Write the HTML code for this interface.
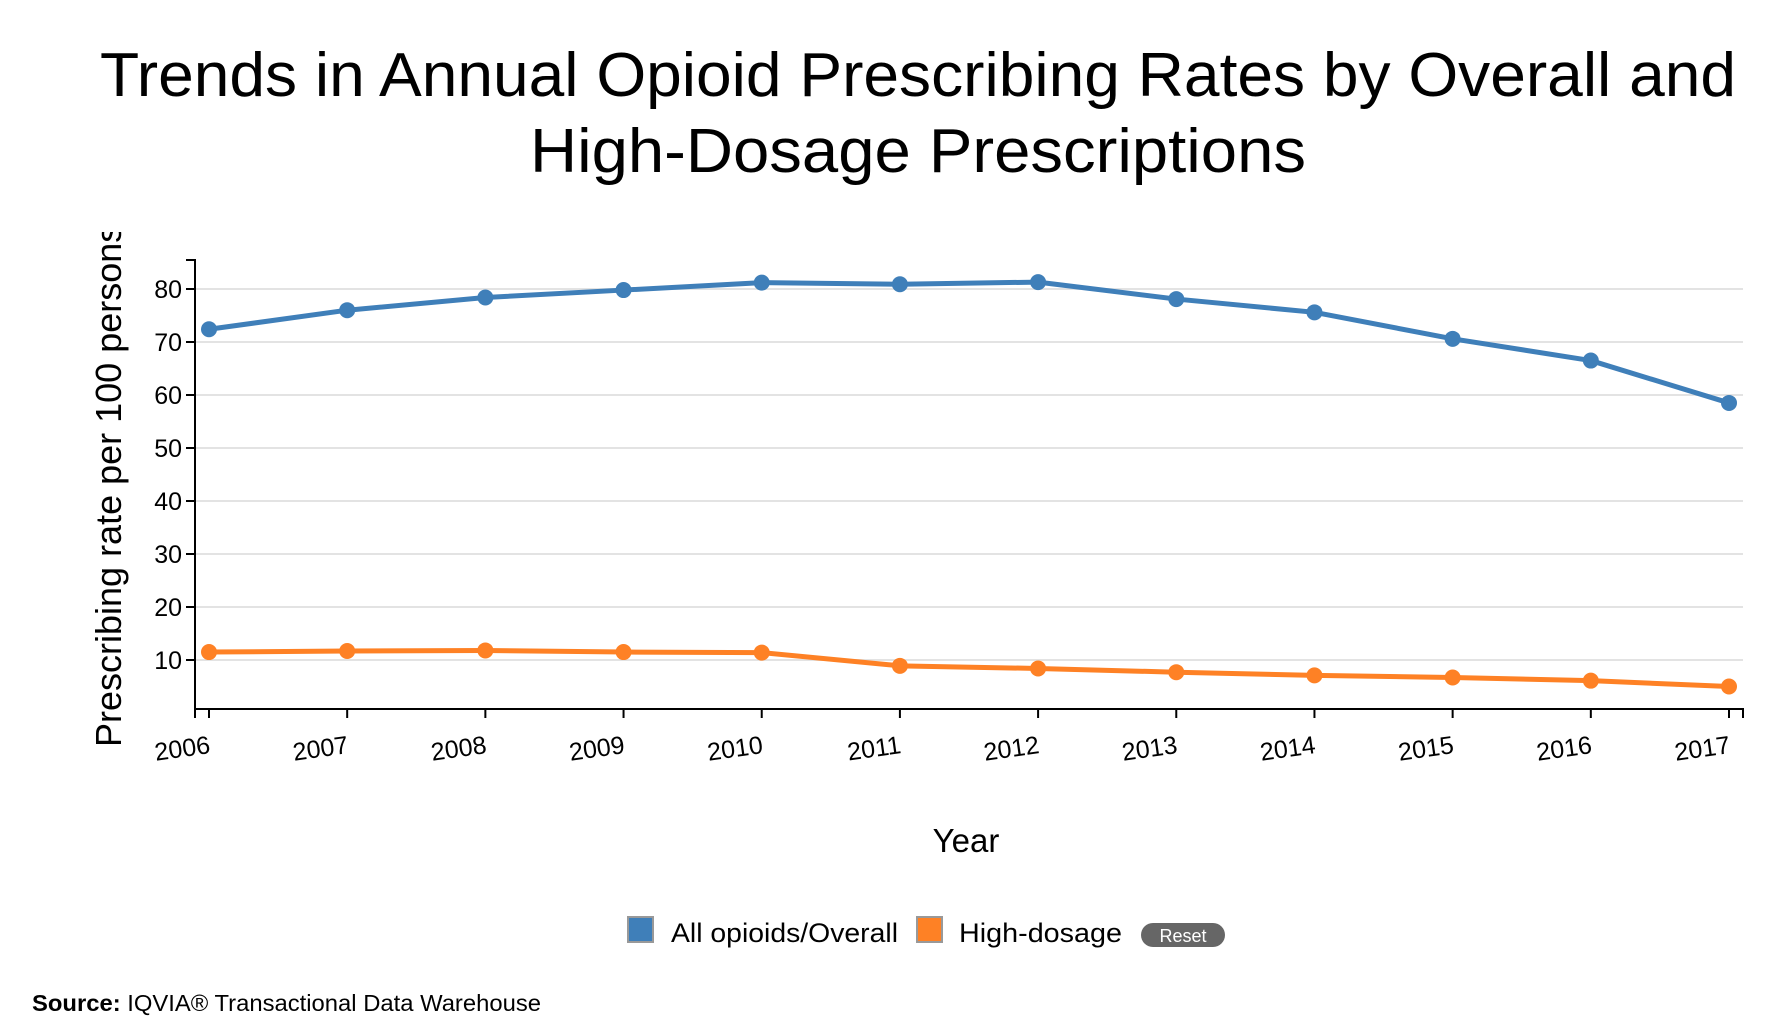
<!DOCTYPE html>
<html><head><meta charset="utf-8">
<style>
html,body{margin:0;padding:0;background:#fff;}
svg{display:block;font-family:"Liberation Sans",Arial,sans-serif;}
</style></head>
<body>
<svg id="chart" width="1766" height="1024" viewBox="0 0 1766 1024">
  <text x="918" y="96" text-anchor="middle" font-size="62" textLength="1636" lengthAdjust="spacingAndGlyphs" fill="#000">Trends in Annual Opioid Prescribing Rates by Overall and</text>
  <text x="918" y="172" text-anchor="middle" font-size="62" textLength="776" lengthAdjust="spacingAndGlyphs" fill="#000">High-Dosage Prescriptions</text>
  <defs><clipPath id="ylclip"><rect x="60" y="232" width="100" height="560"/></clipPath></defs>
  <g clip-path="url(#ylclip)">
    <text transform="translate(121,747) rotate(-90)" font-size="36" fill="#000">Prescribing rate per 100 persons</text>
  </g>
  <g id="grid"></g>
  <g id="axes"></g>
  <g id="series"></g>
  <text x="966" y="852" text-anchor="middle" font-size="33" fill="#000">Year</text>
  <g>
    <g>
      <rect x="628" y="917" width="25" height="25" fill="#3f7fb9" stroke="#999" stroke-width="2"/>
      <text x="671" y="942" font-size="27" textLength="227" lengthAdjust="spacingAndGlyphs" fill="#000">All opioids/Overall</text>
    </g>
    <g>
      <rect x="917" y="917" width="25" height="25" fill="#fe8125" stroke="#999" stroke-width="2"/>
      <text x="959" y="942" font-size="27" textLength="163" lengthAdjust="spacingAndGlyphs" fill="#000">High-dosage</text>
    </g>
    <g>
      <rect x="1141" y="923" width="84" height="24" rx="12" fill="#666"/>
      <text x="1183" y="942" text-anchor="middle" font-size="18" fill="#fff">Reset</text>
    </g>
  </g>
  <text x="32" y="1011" font-size="23" textLength="509" lengthAdjust="spacingAndGlyphs" fill="#000"><tspan font-weight="bold">Source:</tspan> IQVIA® Transactional Data Warehouse</text>
</svg>
<script>
const years = [2006,2007,2008,2009,2010,2011,2012,2013,2014,2015,2016,2017];
const overall = [72.4,76.0,78.4,79.8,81.2,80.9,81.3,78.1,75.6,70.6,66.5,58.5];
const highDosage = [11.5,11.7,11.8,11.5,11.4,8.9,8.4,7.7,7.1,6.7,6.1,5.0];
const yTicks = [10,20,30,40,50,60,70,80];

const NS = "http://www.w3.org/2000/svg";
const X0 = 209, X1 = 1729, AXL = 195, AXR = 1743, AXB = 709, AXT = 260;
const Y0px = 713, PER = 5.3;
function x(i){ return X0 + (X1 - X0) * i / (years.length - 1); }
function y(v){ return Y0px - v * PER; }
function mk(tag, attrs, parent){
  const e = document.createElementNS(NS, tag);
  for (const k in attrs) e.setAttribute(k, attrs[k]);
  parent.appendChild(e); return e;
}
const grid = document.getElementById('grid');
const axes = document.getElementById('axes');
const series = document.getElementById('series');

yTicks.forEach(t => {
  const g = mk('line', {x1:AXL, x2:AXR, y1:y(t), y2:y(t), stroke:'#e3e3e3', 'stroke-width':2}, grid);
  
  
  const tk = mk('line', {x1:AXL-9, x2:AXL, y1:y(t), y2:y(t), stroke:'#000', 'stroke-width':2}, axes);
  
  
  const lb = mk('text', {x:AXL-13, y:y(t)+9, 'text-anchor':'end', 'font-size':25, fill:'#000'}, axes);
  lb.textContent = t;
  
  
});
const ya = mk('path', {d:`M${AXL-9},${AXT}H${AXL}V${AXB}`, fill:'none', stroke:'#000', 'stroke-width':2}, axes);


const xa = mk('path', {d:`M${AXL},${AXB+9}V${AXB}H${AXR}V${AXB+9}`, fill:'none', stroke:'#000', 'stroke-width':2}, axes);


years.forEach((yr, i) => {
  const tk = mk('line', {x1:x(i), x2:x(i), y1:AXB, y2:AXB+9, stroke:'#000', 'stroke-width':2}, axes);
  
  
  const lb = mk('text', {transform:`translate(${x(i)+2},${AXB+44}) rotate(-8)`, 'text-anchor':'end', 'font-size':25, fill:'#000'}, axes);
  lb.textContent = yr;
  
  
});
function drawSeries(vals, color, name){
  const p = mk('path', {d: vals.map((v,i)=>(i?'L':'M')+x(i)+','+y(v)).join(''), fill:'none', stroke:color, 'stroke-width':5, 'stroke-linejoin':'round'}, series);
  
  
  vals.forEach((v,i) => {
    const c = mk('circle', {cx:x(i), cy:y(v), r:8, fill:color}, series);
    
    
  });
}
drawSeries(overall, '#3f7fb9', 'overall');
drawSeries(highDosage, '#fe8125', 'high-dosage');
</script>
</body></html>
